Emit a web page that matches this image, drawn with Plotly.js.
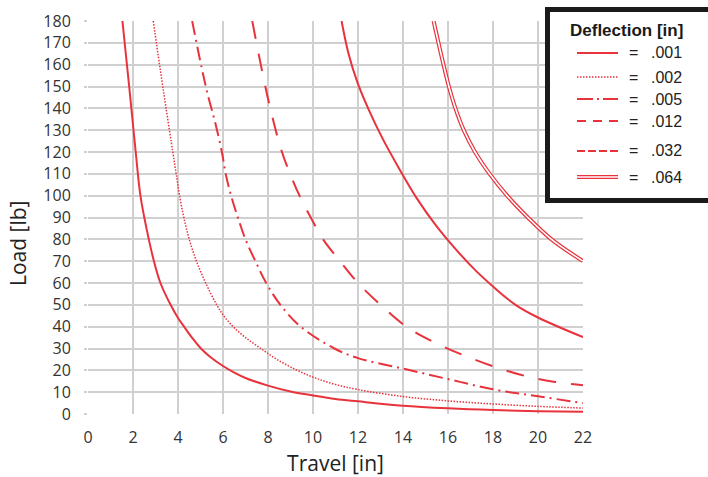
<!DOCTYPE html>
<html>
<head>
<meta charset="utf-8">
<script src="https://cdn.plot.ly/plotly-3.0.1.min.js"></script>
<style>html,body{margin:0;padding:0;background:#fff;}#chart{width:708px;height:477px;}</style>
</head>
<body>
<div id="chart"></div>
<script>
// Deflection curves: Load [lb] vs Travel [in]
const seriesNames = ['.001', '.002', '.005', '.012', '.032', '.064'];

const x001 = [1.53, 1.83, 2.12, 2.33, 2.6, 2.93, 3.22, 3.67, 4.0, 4.27, 4.62, 5.02, 5.45, 6.0, 6.5, 7.0, 8, 9, 10, 11, 12, 14, 16, 18, 20, 22];
const y001 = [180, 150, 120, 100, 85, 70, 60, 50, 44, 40, 35, 30, 26, 22, 19, 16.5, 13, 10.3, 8.5, 6.9, 5.8, 3.8, 2.6, 1.8, 1.3, 1.0];

const x002 = [2.9, 3.18, 3.47, 3.77, 3.92, 4.07, 4.26, 4.5, 4.82, 5.23, 5.72, 6.03, 6.45, 7.0, 7.68, 8.4, 9.3, 10.1, 11, 12, 14, 16, 18, 20, 22];
const y002 = [180, 160, 140, 120, 110, 100, 90, 80, 70, 60, 50, 45, 40, 35, 30, 25, 20, 16.5, 13.5, 11.2, 8, 6, 4.6, 3.5, 2.7];

const x005 = [4.63, 5.05, 5.33, 5.64, 5.95, 6.12, 6.36, 6.66, 7.0, 7.44, 7.92, 8.55, 9.45, 10.95, 12, 14, 16, 18, 20, 22];
const y005 = [180, 158.6, 146, 134, 120, 110, 100, 90, 80, 70, 60, 50, 40, 30, 25.6, 20.8, 16, 11.3, 8.1, 5];

const x012 = [7.3, 7.68, 8.1, 8.62, 9.1, 9.4, 9.9, 10.45, 11.2, 12.0, 13.0, 14.15, 15.45, 16.8, 18.1, 19.4, 20.7, 22];
const y012 = [180, 160, 140, 120, 107, 100, 90, 80, 70, 60, 50, 40, 32.5, 26.5, 21.5, 17.5, 14.8, 13.2];

const x032 = [11.27, 11.58, 11.97, 12.45, 13.1, 13.85, 14.6, 15.42, 16.3, 17.2, 18.1, 19.0, 20, 22];
const y032 = [180, 165, 152, 140, 126, 112, 99, 87, 76, 66, 57.5, 50, 44.2, 35.2];

const x064 = [15.36, 15.8, 16.04, 16.33, 16.7, 17.2, 17.85, 18.63, 19.55, 20.6, 22];
const y064 = [180, 160, 150, 140, 130, 120, 110, 100, 90, 80, 70];

const xTickVals = [0, 2, 4, 6, 8, 10, 12, 14, 16, 18, 20, 22];
const yTickVals = [0, 10, 20, 30, 40, 50, 60, 70, 80, 90, 100, 110, 120, 130, 140, 150, 160, 170, 180];

const legendTitle = 'Deflection [in]';
const xTitle = 'Travel [in]';
const yTitle = 'Load [lb]';

const RED = '#e8333d';

function curve(x, y, name, width, dash, color) {
  return {
    type: 'scatter', mode: 'lines', x: x, y: y, name: name,
    line: {color: color || RED, width: width, dash: dash, shape: 'spline', smoothing: 1},
    hoverinfo: 'x+y+name'
  };
}

const data = [
  curve(x001, y001, seriesNames[0], 2, 'solid'),
  curve(x002, y002, seriesNames[1], 1.5, '1.5px,1.5px'),
  curve(x005, y005, seriesNames[2], 2, '14px,5px,2px,5px'),
  curve(x012, y012, seriesNames[3], 2, '18px,15px'),
  curve(x032, y032, seriesNames[4], 2, 'solid'),
  curve(x064, y064, seriesNames[5], 4, 'solid'),
  curve(x064, y064, seriesNames[5] + ' (inner)', 1.6, 'solid', '#ffffff')
];

// pixel helpers for legend box placement (plot area: 88..583 x 21..414)
const PL = 88, PR = 583, PT = 21, PB = 414;
const px = v => (v - PL) / (PR - PL);
const py = v => (PB - v) / (PB - PT);

const shapes = [{
  type: 'rect', xref: 'paper', yref: 'paper', layer: 'above',
  x0: px(547.5), x1: px(720), y0: py(200.5), y1: py(9.5),
  line: {color: '#1a1a1a', width: 5}, fillcolor: '#ffffff'
}];
const annotations = [];

const legendRows = [53, 77, 99, 121, 151, 177];
const legendDash = ['solid', '1.5px,1.5px', '16px,4px,2px,4px', '9px,7px', '8px,3px', 'solid'];
legendRows.forEach((row, i) => {
  if (i === 5) {
    shapes.push({type: 'line', xref: 'paper', yref: 'paper', layer: 'above',
      x0: px(577), x1: px(618), y0: py(row), y1: py(row), line: {color: RED, width: 4}});
    shapes.push({type: 'line', xref: 'paper', yref: 'paper', layer: 'above',
      x0: px(577), x1: px(618), y0: py(row), y1: py(row), line: {color: '#ffffff', width: 1.4}});
  } else {
    shapes.push({type: 'line', xref: 'paper', yref: 'paper', layer: 'above',
      x0: px(577), x1: px(618), y0: py(row), y1: py(row),
      line: {color: RED, width: i === 1 ? 1.5 : 2, dash: legendDash[i]}});
  }
  annotations.push({xref: 'paper', yref: 'paper', x: px(633), y: py(row), text: '=',
    showarrow: false, xanchor: 'center', yanchor: 'middle',
    font: {family: 'Liberation Sans, Arial, sans-serif', size: 16, color: '#222'}});
  annotations.push({xref: 'paper', yref: 'paper', x: px(649), y: py(row), text: seriesNames[i],
    showarrow: false, xanchor: 'left', yanchor: 'middle',
    font: {family: 'Liberation Sans, Arial, sans-serif', size: 16, color: '#222'}});
});
annotations.push({xref: 'paper', yref: 'paper', x: px(626.5), y: py(30), text: '<b>' + legendTitle + '</b>',
  showarrow: false, xanchor: 'center', yanchor: 'middle',
  font: {family: 'Liberation Sans, Arial, sans-serif', size: 17, color: '#1a1a1a'}});
annotations.push({xref: 'paper', yref: 'paper', x: px(18), y: py(244), text: yTitle, textangle: -90,
  showarrow: false, xanchor: 'center', yanchor: 'middle',
  font: {family: 'Open Sans, sans-serif', size: 21, color: '#222'}});

const layout = {
  width: 708, height: 477,
  margin: {l: PL, r: 708 - PR, t: PT, b: 477 - PB, pad: 0},
  paper_bgcolor: '#ffffff', plot_bgcolor: '#ffffff',
  showlegend: false,
  font: {family: 'Open Sans, sans-serif', color: '#333'},
  xaxis: {
    range: [0, 22], tickvals: xTickVals, showgrid: true, gridcolor: '#d0d0d0', gridwidth: 2,
    zeroline: false, showline: false, ticks: '', ticklabelstandoff: 12,
    tickfont: {size: 16, color: '#333'},
    title: {text: xTitle, font: {size: 21, color: '#222'}, standoff: 9},
    fixedrange: true
  },
  yaxis: {
    range: [0, 180], tickvals: yTickVals, showgrid: true, gridcolor: '#d0d0d0', gridwidth: 2,
    zeroline: false, showline: false, ticks: 'outside', ticklen: 3, tickcolor: '#d0d0d0', tickwidth: 2,
    ticklabelstandoff: 10, tickfont: {size: 16, color: '#333'},
    fixedrange: true
  },
  shapes: shapes,
  annotations: annotations
};

Plotly.newPlot('chart', data, layout, {displayModeBar: false, staticPlot: true});
</script>
</body>
</html>
